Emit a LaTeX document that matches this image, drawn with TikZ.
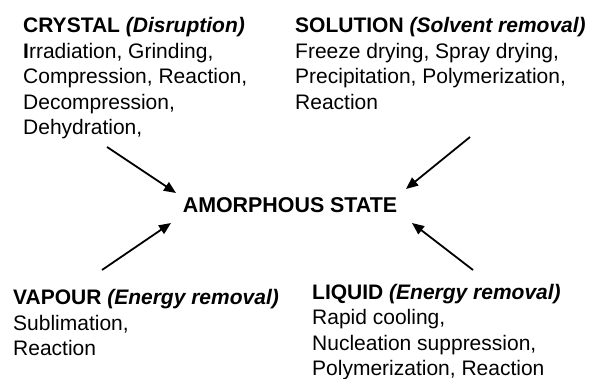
\documentclass[tikz,border=0pt]{standalone}
\usepackage{fontspec}
\setmainfont{Liberation Sans}
\usetikzlibrary{arrows.meta}
\begin{document}
\begin{tikzpicture}[x=1pt,y=-1pt,
  blk/.style={anchor=base west,align=left,inner sep=0pt,font=\fontsize{21}{25.5}\selectfont},
  ttl/.style={anchor=base,inner sep=0pt,font=\fontsize{21.4}{25.5}\selectfont\bfseries},
  arr/.style={line width=1.8pt,-{Triangle[length=12pt,width=10pt]}}]
\useasboundingbox (0,0) rectangle (591,379);
\node[blk] (crystal) at (23,135) {\textbf{CRYSTAL \textit{(Disruption)}}\\\textbf{I}rradiation, Grinding,\\Compression, Reaction,\\Decompression,\\Dehydration,};
\node[blk] (solution) at (295,109.5) {\textbf{SOLUTION \textit{(Solvent removal)}}\\Freeze drying, Spray drying,\\Precipitation, Polymerization,\\Reaction};
\node[blk] (vapour) at (13,355.5) {\textbf{VAPOUR \textit{(Energy removal)}}\\Sublimation,\\Reaction};
\node[blk] (liquid) at (312,375.5) {\textbf{LIQUID \textit{(Energy removal)}}\\Rapid cooling,\\Nucleation suppression,\\Polymerization, Reaction};
\node[ttl] (amorph) at (290,213) {AMORPHOUS STATE};
\coordinate (c1) at (107,147); \coordinate (e1) at (176,193);
\coordinate (c2) at (470,137); \coordinate (e2) at (406,189);
\coordinate (c3) at (102,270); \coordinate (e3) at (171,223);
\coordinate (c4) at (473,270); \coordinate (e4) at (412,223);
\draw[arr] (c1) -- (e1);
\draw[arr] (c2) -- (e2);
\draw[arr] (c3) -- (e3);
\draw[arr] (c4) -- (e4);
\end{tikzpicture}
\end{document}
